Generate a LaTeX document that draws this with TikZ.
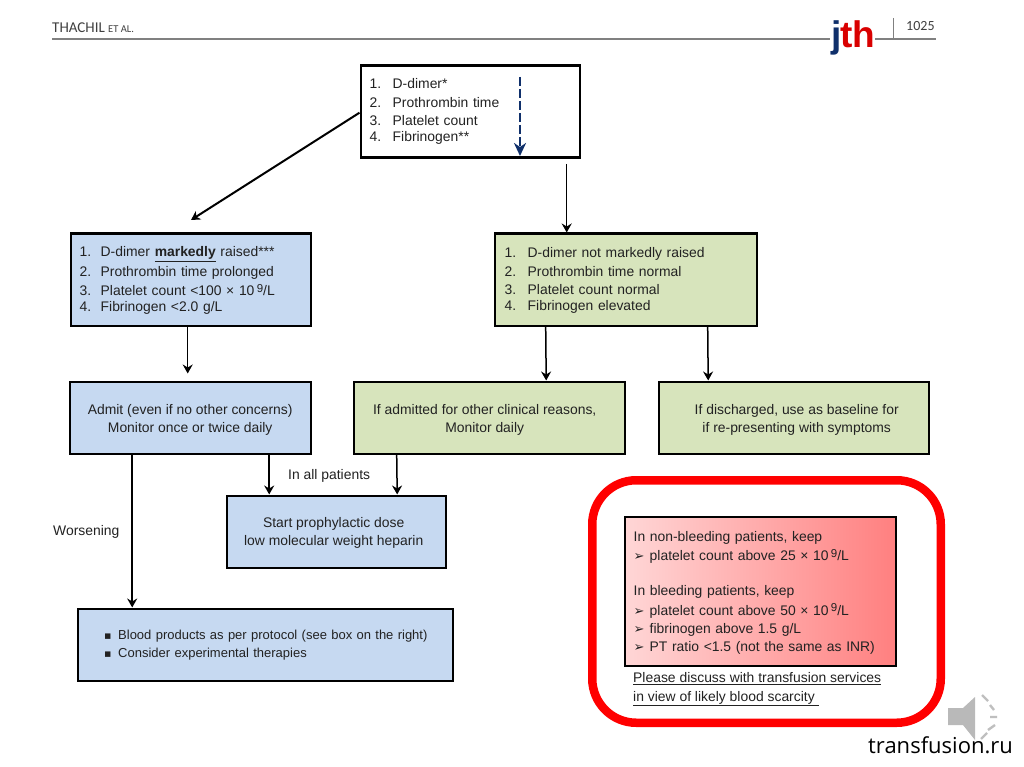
\documentclass[tikz,border=0pt]{standalone}
\usepackage{fontspec}
\setmainfont{Liberation Sans}
\newfontfamily\dejavu{DejaVu Sans}
\newfontfamily\carlito{Carlito}
\newfontfamily\opensans{Open Sans}
\usetikzlibrary{arrows.meta}
\definecolor{blueA}{HTML}{C6D9F1}
\definecolor{greenA}{HTML}{D7E4BC}
\definecolor{navyA}{HTML}{10306B}
\definecolor{inkA}{HTML}{222222}
\newcommand{\nm}[1]{\makebox[23pt][l]{#1.}}
\newcommand{\nmb}[1]{\makebox[21pt][l]{#1.}}
\newcommand{\tenn}{10\,\raisebox{3.5pt}{\fontsize{11.5}{11.5}\selectfont 9}/L}
\newcommand{\ar}{\makebox[16pt][l]{\dejavu\fontsize{13}{13}\selectfont ➢}}
\newcommand{\low}[1]{\rule{0pt}{#1pt}}
\tikzset{
  x=1pt,y=-1pt,
  every node/.style={font=\fontsize{13.9}{14}\selectfont,text=inkA},
  boxA/.style={draw=black,line width=2.4pt,inner sep=0pt,align=center,anchor=north west},
  listbox/.style={boxA,align=left},
  arrA/.style={-{Stealth[length=9pt,width=10pt,inset=3pt]},line width=1.5pt,black},
}
\begin{document}
\begin{tikzpicture}
\useasboundingbox (0,0) rectangle (1024,767);
\fill[white] (0,0) rectangle (1024,767);
% header
\draw[gray,line width=1.4pt] (52,39) -- (830,39) (875,39) -- (936,39);
\draw[gray,line width=.8pt] (893,18) -- (893,39);
\node[anchor=base west,inner sep=0pt,text=black!75] (hdr) at (52,33) {\carlito\fontsize{15}{15}\selectfont THACHIL \fontsize{10.5}{11}\selectfont ET AL.};
\node[anchor=base west,inner sep=0pt,text=black!75] (pg) at (906,31) {\carlito\fontsize{14}{14}\selectfont 1025};
\node[anchor=base west,inner sep=0pt] (logo) at (831,48) {\fontsize{37}{37}\selectfont\bfseries\textcolor{navyA}{j}\kern-1pt\textcolor{red!85!black}{th}};
% boxes
\node[listbox,minimum width=219pt,minimum height=92pt,text width=201pt,fill=white] (top) at (359.5,64.5)
 {\nm1D-dimer*\\[5pt]\nm2Prothrombin time\\[4pt]\nm3Platelet count\\[2pt]\nm4Fibrinogen**\\[6pt]};
\node[listbox,minimum width=240pt,minimum height=92pt,text width=222pt,fill=blueA] (b1) at (69.5,232.5)
 {\nmb1\low{12}D-dimer \underline{\textbf{markedly}} raised***\\[4pt]\nmb2Prothrombin time prolonged\\[4pt]\nmb3Platelet count <100 × \tenn\\[2pt]\nmb4Fibrinogen <2.0 g/L};
\node[listbox,minimum width=262pt,minimum height=92pt,text width=242pt,fill=greenA] (g1) at (493.5,232.5)
 {\nm1\low{12}D-dimer not markedly raised\\[5pt]\nm2Prothrombin time normal\\[4pt]\nm3Platelet count normal\\[2pt]\nm4Fibrinogen elevated};
\node[boxA,minimum width=241pt,minimum height=72pt,fill=blueA] (adm) at (68.5,380.5)
 {\low{14}Admit (even if no other concerns)\\[4pt]Monitor once or twice daily};
\node[boxA,minimum width=271pt,minimum height=72pt,fill=greenA] (g2) at (352.5,380.5)
 {\hspace*{-9pt}\low{14}If admitted for other clinical reasons,\\[4pt]\hspace*{-9pt}Monitor daily};
\node[boxA,minimum width=270pt,minimum height=72pt,fill=greenA] (g3) at (657.5,380.5)
 {\hspace*{6pt}\low{14}If discharged, use as baseline for\\[4pt]\hspace*{6pt}if re-presenting with symptoms};
\node[boxA,minimum width=219pt,minimum height=72pt,fill=blueA] (hep) at (225.5,494.5)
 {\hspace*{-5pt}\low{12}Start prophylactic dose\\[4pt]\hspace*{-5pt}low molecular weight heparin};
\node[listbox,minimum width=375pt,minimum height=72pt,text width=340pt,fill=blueA,font=\fontsize{13}{14}\selectfont] (blood) at (76.5,607.5)
 {\hspace*{9pt}\makebox[14pt][l]{\dejavu\fontsize{11}{11}\selectfont ▪}Blood products as per protocol (see box on the right)\\[4pt]\hspace*{9pt}\makebox[14pt][l]{\dejavu\fontsize{11}{11}\selectfont ▪}Consider experimental therapies};
% red panel
\node[draw=red,line width=8.5pt,rounded corners=44pt,minimum width=348.5pt,minimum height=242.5pt,anchor=north west,inner sep=0pt] (panel) at (588,476) {};
\node[boxA,left color=red!16,right color=red!50!white,draw=black,minimum width=271pt,minimum height=149pt,align=left,text width=253pt] (rec) at (623.5,515.5)
 {\low{13}In non-bleeding patients, keep\\[4pt]\ar platelet count above 25 × \tenn\\[21pt]In bleeding patients, keep\\[4pt]\ar platelet count above 50 × \tenn\\[4pt]\ar fibrinogen above 1.5 g/L\\[4pt]\ar PT ratio <1.5 (not the same as INR)};
\node[anchor=north west,inner sep=0pt,align=left] (note) at (633,672)
 {\underline{Please discuss with transfusion services}\\[5pt]\underline{in view of likely blood scarcity\ }};
% arrows
\coordinate (c1) at (191,220);
\draw[arrA,line width=2pt] ([yshift=-1pt]top.west) -- (c1);
\draw[arrA] ([xshift=96.5pt,yshift=-5pt]top.south) -- ([xshift=96.5pt]top.south |- g1.north);
\draw[arrA] ([xshift=-3pt]b1.south) -- ([xshift=-3pt,yshift=7pt]b1.south |- adm.north);
\draw[arrA] ([xshift=-80pt]g1.south) -- ([xshift=57pt]g2.north);
\draw[arrA] ([xshift=82pt]g1.south) -- ([xshift=-85.5pt]g3.north);
\draw[arrA] ([xshift=-58pt]adm.south) -- ([xshift=-58pt]adm.south |- blood.north);
\draw[arrA] ([xshift=79pt]adm.south) -- ([xshift=-67pt]hep.north);
\draw[arrA] ([xshift=-92.5pt]g2.south) -- ([xshift=61pt]hep.north);
\coordinate (d1) at (520,77);
\coordinate (d2) at (520,156);
\draw[navyA,line width=2.4pt,dash pattern=on 9pt off 3pt,-{Stealth[length=13pt,width=12pt,inset=4pt]}] (d1) -- (d2);
% free labels
\node[anchor=base west,inner sep=0pt] (lblall) at (288,479) {In all patients};
\node[anchor=base west,inner sep=0pt] (lblw) at (53,535) {Worsening};
% speaker
\fill[gray!55] (948,708) -- (963,708) -- (975,697) -- (975,740) -- (963,725) -- (948,725) -- cycle;
\draw[gray!50,line width=2.4pt] (982,695) -- (988,701) (990,705) -- (994,710) (990,717) -- (997,717)
  (988,730) -- (995,725) (981,739) -- (987,733);
\node[anchor=base west,inner sep=0pt,text=black] (wm) at (868,753) {\opensans\fontsize{22}{23}\selectfont transfusion.ru};
\end{tikzpicture}
\end{document}
